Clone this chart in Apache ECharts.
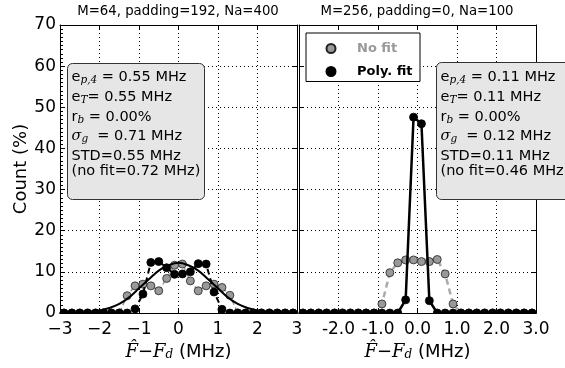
<!DOCTYPE html>
<html><head><meta charset="utf-8">
<script src="https://cdn.jsdelivr.net/npm/echarts@6/dist/echarts.min.js"></script>
<style>html,body{margin:0;padding:0;background:#fff}#c{width:565px;height:368px}</style>
</head><body><div id="c"></div>
<script>
// ---- data ----
const xBins = [-2.9,-2.7,-2.5,-2.3,-2.1,-1.9,-1.7,-1.5,-1.3,-1.1,-0.9,-0.7,-0.5,-0.3,-0.1,0.1,0.3,0.5,0.7,0.9,1.1,1.3,1.5,1.7,1.9,2.1,2.3,2.5,2.7,2.9];
const leftNoFit   = [0,0,0,0,0,0,0,0,4.2,6.6,7.0,6.6,5.4,8.4,11.6,11.9,7.8,5.4,6.6,7.0,6.2,4.3,0,0,0,0,0,0,0,0];
const leftPolyFit = [0,0,0,0,0,0,0,0,0,1.0,4.6,12.3,12.5,11.0,9.4,9.5,10.0,12.0,11.9,5.1,0.9,0,0,0,0,0,0,0,0,0];
const fitX = [-3,-2.75,-2.5,-2.25,-2,-1.75,-1.5,-1.25,-1,-0.75,-0.5,-0.25,0,0.25,0.5,0.75,1,1.25,1.5,1.75,2,2.25,2.5,2.75,3];
const leftFitCurve = [0,0.02,0.1,0.3,0.6,1.2,2.2,3.8,6.0,8.2,10.3,11.6,12.2,11.6,10.3,8.2,6.0,3.8,2.2,1.2,0.6,0.3,0.1,0.02,0];
const rightNoFit   = [0,0,0,0,0,0,0,0,0,0,2.2,9.8,12.2,12.9,12.9,12.5,12.5,13.0,9.5,2.2,0,0,0,0,0,0,0,0,0,0];
const rightPolyFit = [0,0,0,0,0,0,0,0,0,0,0,0,0,3.2,47.6,46.0,3.0,0,0,0,0,0,0,0,0,0,0,0,0,0];
const leftXTickLabels  = ['\u22123','\u22122','\u22121','0','1','2','3'];
const rightXTickLabels = ['','-2.0','-1.0','0.0','1.0','2.0','3.0'];
const yTickLabels = ['0','10','20','30','40','50','60','70'];
const titles = ['M=64, padding=192, Na=400','M=256, padding=0, Na=100'];
const leftBox  = ['0.55','0.55','0.00','0.71','0.55','0.72'];
const rightBox = ['0.11','0.11','0.00','0.12','0.11','0.46'];

// ---- chart ----
const FONT = 'DejaVu Sans';
const chart = echarts.init(document.getElementById('c'), null, {renderer:'canvas'});
const pairs = (xs, ys) => xs.map((x, i) => [x, ys[i]]);
const dotted = {show:true, lineStyle:{color:'#000', width:1, type:[1,3]}};
const axLine = {show:true, onZero:false, lineStyle:{color:'#000', width:1}};
const tick = {show:true, inside:true, length:5, lineStyle:{color:'#000', width:1}};
const xName = '{i|F\u0302}{n|\u2212}{i|F}{s|d}{n| (MHz)}';
const xNameStyle = {rich:{
  i:{fontFamily:'DejaVu Serif', fontStyle:'italic', fontSize:18, color:'#000'},
  n:{fontFamily:FONT, fontSize:18, color:'#000'},
  s:{fontFamily:'DejaVu Serif', fontStyle:'italic', fontSize:12, color:'#000', verticalAlign:'bottom', lineHeight:10}
}};
function xAx(grid, labels, bottom) {
  const a = {gridIndex:grid, type:'value', min:-3, max:3, interval:1, position: bottom ? 'bottom' : 'top',
    axisLine:axLine, axisTick:tick, splitLine: bottom ? dotted : {show:false},
    axisLabel: bottom ? {show:true, margin:8, fontSize:17, fontFamily:FONT, color:'#000',
      formatter: v => labels[Math.round(v + 3)]} : {show:false}};
  if (bottom) { a.name = xName; a.nameLocation = 'middle'; a.nameGap = 27; a.nameTextStyle = xNameStyle; }
  return a;
}
function yAx(grid, left, labels) {
  const a = {gridIndex:grid, type:'value', min:0, max:70, interval:10, position: left ? 'left' : 'right',
    axisLine:axLine, axisTick:tick, splitLine: left ? dotted : {show:false},
    axisLabel: labels ? {show:true, margin:4, fontSize:17, fontFamily:FONT, color:'#000',
      formatter: v => yTickLabels[Math.round(v/10)]} : {show:false}};
  if (labels) {
    a.name = 'Count (%)'; a.nameLocation = 'middle'; a.nameGap = 30;
    a.nameTextStyle = {fontFamily:FONT, fontSize:18, color:'#000'};
    a.minorTick = {show:true, splitNumber:10, length:3, lineStyle:{color:'#000'}};
  }
  return a;
}
const grayItem = {color:'#999', borderColor:'#222', borderWidth:0.8};
const blackItem = {color:'#000', borderColor:'#000', borderWidth:0.8};
const base = {type:'line', symbol:'circle', symbolSize:8, animation:false, emphasis:{disabled:true}, clip:true};

const sub = {fontFamily:'DejaVu Serif', fontStyle:'italic', fontSize:10.5, color:'#222', verticalAlign:'bottom', lineHeight:5};
const richBox = {
  n:{fontFamily:FONT, fontSize:14.5, color:'#000', lineHeight:18},
  m:{fontFamily:'DejaVu Serif', fontStyle:'italic', fontSize:14.5, color:'#333', lineHeight:18},
  s:sub
};
const lineY = [77, 97, 117, 136, 156, 171];
function boxTexts(vals, x) {
  const lines = [
    '{n|e}{s|p,4}{n| = ' + vals[0] + ' MHz}',
    '{n|e}{s|T}{n|= ' + vals[1] + ' MHz}',
    '{n|r}{s|b}{n| = ' + vals[2] + '%}',
    '{m|\u03c3}{s|g}{n|  = ' + vals[3] + ' MHz}',
    '{n|STD=' + vals[4] + ' MHz}',
    '{n|(no fit=' + vals[5] + ' MHz)}'
  ];
  return lines.map((t, i) => ({type:'text', x:x, y:lineY[i], z:101,
    style:{text:t, rich:richBox, verticalAlign:'middle', align:'left'}}));
}

chart.setOption({
  animation:false,
  backgroundColor:'#fff',
  grid:[
    {left:60, top:25, width:237, height:288},
    {left:299, top:25, width:237, height:288}
  ],
  xAxis:[xAx(0, leftXTickLabels, true), xAx(0, null, false), xAx(1, rightXTickLabels, true), xAx(1, null, false)],
  yAxis:[yAx(0, true, true), yAx(0, false, false), yAx(1, true, false), yAx(1, false, false)],
  legend:{left:306, top:33, orient:'vertical', selectedMode:false, backgroundColor:'#fff',
    borderColor:'#000', borderWidth:1, borderRadius:0, padding:[7.5,7.5,2,19.5], itemGap:7,
    itemWidth:42, itemHeight:9,
    textStyle:{fontFamily:FONT, fontSize:13, fontWeight:'bold', lineHeight:16},
    data:[{name:'No fit', icon:'circle', textStyle:{color:'#999'}},
          {name:'Poly. fit', icon:'circle', textStyle:{color:'#000'}}]},
  series:[
    Object.assign({}, base, {name:'No fit', xAxisIndex:0, yAxisIndex:0, data:pairs(xBins, leftNoFit), z:2,
      itemStyle:grayItem, lineStyle:{color:'#999', width:1.5, type:[5,3]}}),
    Object.assign({}, base, {name:'Poly. fit', xAxisIndex:0, yAxisIndex:0, data:pairs(xBins, leftPolyFit), z:3,
      itemStyle:blackItem, lineStyle:{color:'#000', width:2, type:[6,4]}}),
    Object.assign({}, base, {name:'fit', xAxisIndex:0, yAxisIndex:0, data:pairs(fitX, leftFitCurve), z:4,
      symbol:'none', smooth:0.4, lineStyle:{color:'#000', width:2}}),
    Object.assign({}, base, {name:'No fit', xAxisIndex:2, yAxisIndex:2, data:pairs(xBins, rightNoFit), z:2,
      itemStyle:grayItem, lineStyle:{color:'#aaa', width:2.5, type:[6,4]}}),
    Object.assign({}, base, {name:'Poly. fit', xAxisIndex:2, yAxisIndex:2, data:pairs(xBins, rightPolyFit), z:3,
      itemStyle:blackItem, lineStyle:{color:'#000', width:2.5}})
  ],
  graphic:[
    // mask below the baseline so the 0-value markers look clipped by the axes
    {type:'rect', z:50, shape:{x:55, y:314, width:490, height:4.5}, style:{fill:'#fff'}},
    {type:'text', x:178, y:12, z:100, style:{text:titles[0], font:'13.3px "DejaVu Sans"', fill:'#000', align:'center', verticalAlign:'middle'}},
    {type:'text', x:417, y:12, z:100, style:{text:titles[1], font:'13.3px "DejaVu Sans"', fill:'#000', align:'center', verticalAlign:'middle'}},
    {type:'rect', z:100, shape:{x:67.5, y:63.5, width:137, height:136, r:5}, style:{fill:'#e6e6e6', stroke:'#333', lineWidth:1}},
    {type:'rect', z:100, shape:{x:436.5, y:62.5, width:140, height:137, r:5}, style:{fill:'#e6e6e6', stroke:'#333', lineWidth:1}}
  ].concat(boxTexts(leftBox, 71.5), boxTexts(rightBox, 440.5))
});
</script></body></html>
